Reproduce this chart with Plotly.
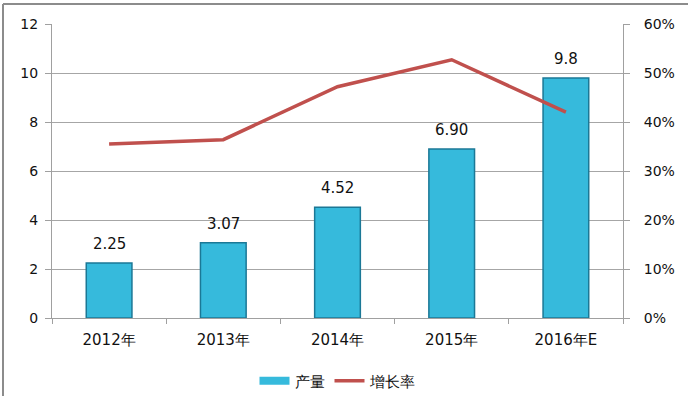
import plotly.graph_objects as go

categories = ["2012年", "2013年", "2014年", "2015年", "2016年E"]
output_values = [2.25, 3.07, 4.52, 6.90, 9.8]
output_labels = ["2.25", "3.07", "4.52", "6.90", "9.8"]
growth_rate = [0.355, 0.364, 0.472, 0.527, 0.420]
left_ticks = [0, 2, 4, 6, 8, 10, 12]
right_ticks = [0, 0.1, 0.2, 0.3, 0.4, 0.5, 0.6]
right_tick_labels = ["0%", "10%", "20%", "30%", "40%", "50%", "60%"]

FONT = "DejaVu Sans"
BAR_COLOR = "#36BADC"
fig = go.Figure()
fig.add_trace(go.Bar(
    x=categories, y=output_values, name="产量", showlegend=False,
    marker=dict(color=BAR_COLOR, line=dict(color="#1B7896", width=1.5)),
    width=0.4,
))
# legend-only entry for the bar series (wide swatch)
fig.add_trace(go.Scatter(
    x=[categories[0]], y=[None], name="产量", mode="lines",
    line=dict(color=BAR_COLOR, width=8),
))
fig.add_trace(go.Scatter(
    x=categories, y=growth_rate, name="增长率", yaxis="y2",
    mode="lines", line=dict(color="#C0504D", width=3.5),
))
for c, v, t in zip(categories, output_values, output_labels):
    fig.add_annotation(x=c, y=v, xref="x", yref="y", text=t, showarrow=False,
                       yanchor="bottom", yshift=8, font=dict(size=15, color="#111111", family=FONT))

W, H = 688, 396
ml, mr, mt, mb = 52, 65, 24, 78
pw, ph = W - ml - mr, H - mt - mb

fig.update_layout(
    width=W, height=H,
    margin=dict(l=ml, r=mr, t=mt, b=mb, pad=0, autoexpand=False),
    paper_bgcolor="white", plot_bgcolor="white",
    font=dict(family=FONT, size=14, color="#111111"),
    showlegend=True,
    legend=dict(orientation="h", x=0.5, xanchor="center", y=1 - 381 / H, yanchor="middle",
                yref="container", font=dict(size=15, family=FONT), traceorder="normal"),
    xaxis=dict(type="category", showgrid=False, showline=True, linecolor="#A0A0A0", linewidth=1,
               ticks="outside", tickson="boundaries", ticklen=5, tickcolor="#A0A0A0",
               tickfont=dict(size=15), ticklabelstandoff=8),
    yaxis=dict(range=[0, 12], tickvals=left_ticks, showgrid=True, gridcolor="#A6A6A6", gridwidth=1,
               showline=True, linecolor="#A0A0A0", ticks="outside", ticklen=6, tickcolor="#A0A0A0",
               zeroline=False, tickfont=dict(size=14), ticklabelstandoff=4),
    yaxis2=dict(range=[0, 0.6], tickvals=right_ticks, ticktext=right_tick_labels, overlaying="y",
                side="right", showgrid=False, showline=True, linecolor="#A0A0A0", ticks="outside",
                ticklen=6, tickcolor="#A0A0A0", zeroline=False, tickfont=dict(size=14),
                ticklabelstandoff=11),
    shapes=[
        dict(type="line", xref="paper", yref="paper", x0=(3 - ml) / pw, x1=(3 - ml) / pw,
             y0=1 + (mt - 4) / ph, y1=-0.5, line=dict(color="#8C8C8C", width=2)),
        dict(type="line", xref="paper", yref="paper", x0=(3 - ml) / pw, x1=1.5,
             y0=1 + (mt - 4) / ph, y1=1 + (mt - 4) / ph, line=dict(color="#8C8C8C", width=2)),
    ],
)
fig.write_html("out.html", config={"displayModeBar": False},
               post_script="document.body.style.margin='0';document.body.style.overflow='hidden';")
